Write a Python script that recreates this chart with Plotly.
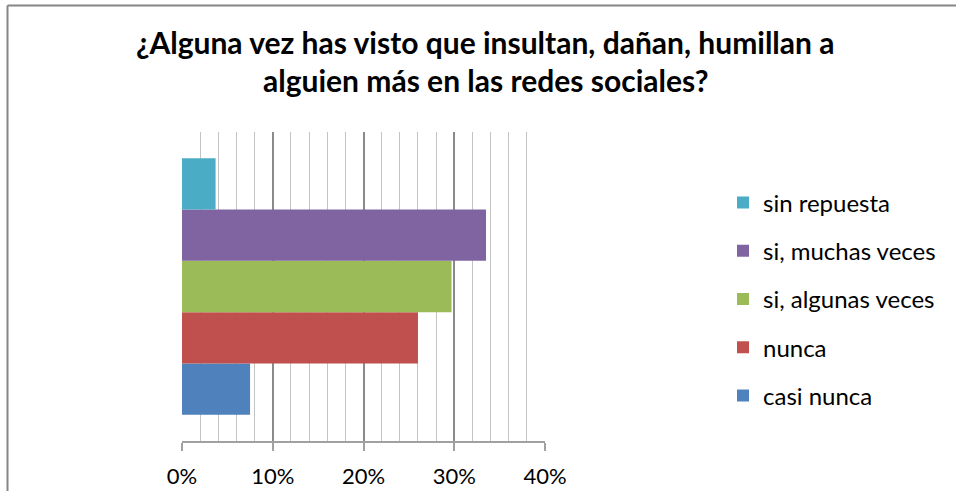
import plotly.graph_objects as go

# Data (bottom to top in the chart)
series = ["casi nunca", "nunca", "si, algunas veces", "si, muchas veces", "sin repuesta"]
values = [0.075, 0.26, 0.297, 0.335, 0.037]
colors = ["#4F81BD", "#C0504D", "#9BBB59", "#8064A2", "#4BACC6"]
title_lines = ["¿Alguna vez has visto que insultan, dañan, humillan a",
               "alguien más en las redes sociales?"]
x_ticks = [0, 0.1, 0.2, 0.3, 0.4]
x_ticklabels = ["0%", "10%", "20%", "30%", "40%"]

W, H = 956, 491
L, R, T, B = 182, 545, 132, 441  # plot area in pixels

def px(xp):
    return (xp - L) / (R - L)

def py(yp):
    return (B - yp) / (B - T)

fig = go.Figure()
n = len(series)
for i, (name, v, c) in enumerate(zip(series, values, colors)):
    fig.add_trace(go.Bar(
        y=[0], x=[v], name=name, orientation="h",
        marker=dict(color=c, line=dict(width=0)),
        legendgroup=name, legendrank=n - i, hoverinfo="x+name",
    ))

font_family = "Lato, 'Open Sans', sans-serif"

fig.update_layout(
    width=W, height=H,
    margin=dict(l=L, r=W - R, t=T, b=H - B, pad=0, autoexpand=False),
    paper_bgcolor="white", plot_bgcolor="white",
    barmode="group", bargap=0.17, bargroupgap=0,
    font=dict(family=font_family, color="#000000", size=24),
    showlegend=True,
    legend=dict(
        traceorder="grouped",
        x=px(723), xanchor="left",
        y=py(299), yanchor="middle",
        font=dict(size=24, color="#000000"),
        tracegroupgap=14,
        bgcolor="rgba(0,0,0,0)",
    ),
    xaxis=dict(
        range=[0, 0.4],
        tickvals=x_ticks, ticktext=x_ticklabels,
        showgrid=True, gridcolor="#8a8a8a", gridwidth=1.5,
        minor=dict(dtick=0.02, showgrid=True, gridcolor="#c4c4c4", gridwidth=1.3, ticks=""),
        showline=True, linecolor="#a0a0a0", linewidth=1.5,
        ticks="outside", ticklen=8, tickcolor="#a0a0a0", tickwidth=1.5,
        tickfont=dict(size=22, color="#000000"),
        ticklabelstandoff=7, automargin=False,
        zeroline=False, fixedrange=True,
    ),
    yaxis=dict(
        range=[-0.5, 0.5], showticklabels=False, showgrid=False,
        zeroline=False, showline=False, ticks="", fixedrange=True, automargin=False,
    ),
)

# Title as two centred lines
for txt, yc in zip(title_lines, [42, 80]):
    fig.add_annotation(
        text="<b>" + txt + "</b>", xref="paper", yref="paper",
        x=px(485), y=py(yc), xanchor="center", yanchor="middle",
        showarrow=False, font=dict(size=30, color="#000000", family=font_family),
    )

# Outer chart border (left and top edges visible)
border = dict(color="#868686", width=2)
fig.add_shape(type="line", xref="paper", yref="paper",
              x0=px(7.5), x1=px(7.5), y0=py(5.5), y1=py(500), line=border)
fig.add_shape(type="line", xref="paper", yref="paper",
              x0=px(7.5), x1=px(965), y0=py(5.5), y1=py(5.5), line=border)

fig.write_html("out.html", config={"displayModeBar": False},
               post_script="document.body.style.margin='0';document.body.style.overflow='hidden';")
